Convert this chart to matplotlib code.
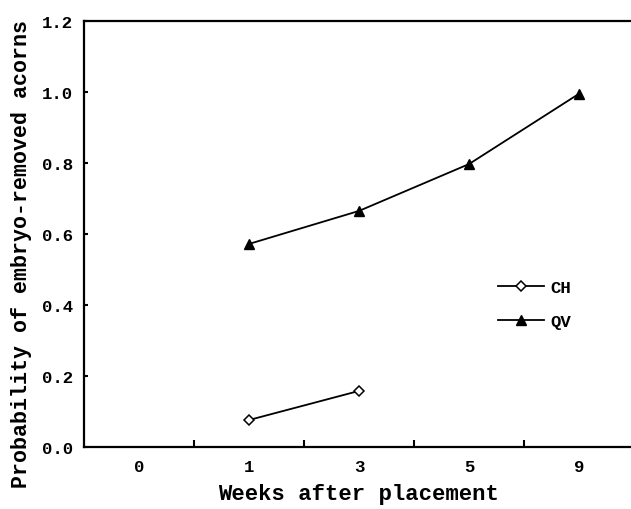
import matplotlib
matplotlib.use("Agg")
import matplotlib.pyplot as plt
import numpy as np

categories = ["0", "1", "3", "5", "9"]
ch_weeks = ["1", "3"]
ch_values = [0.076, 0.158]
qv_weeks = ["1", "3", "5", "9"]
qv_values = [0.572, 0.665, 0.797, 0.995]
yticks = [0.0, 0.2, 0.4, 0.6, 0.8, 1.0, 1.2]

font = "Liberation Mono"
plt.rcParams['font.family'] = [font, 'DejaVu Sans Mono']
plt.rcParams['font.weight'] = 'bold'

fig = plt.figure(figsize=(6.31, 5.10), dpi=100)
ax = fig.add_axes([84/631, 1-448/510, 550/631, (448-22)/510])

pos = {c: i for i, c in enumerate(categories)}
ax.plot([pos[w] for w in ch_weeks], ch_values, color='black', lw=1.3,
        marker='D', markersize=5, markerfacecolor='white', markeredgecolor='black',
        markeredgewidth=1.1, label='CH')
ax.plot([pos[w] for w in qv_weeks], qv_values, color='black', lw=1.3,
        marker='^', markersize=7, markerfacecolor='black', markeredgecolor='black',
        label='QV')

ax.set_xlim(-0.5, len(categories) - 0.5)
ax.set_ylim(0, 1.2)
ax.set_xticks(np.arange(len(categories)))
ax.set_xticklabels(categories)
ax.set_xticks(np.arange(len(categories)) + 0.5, minor=True)
ax.tick_params(axis='x', which='major', length=0, pad=9, labelsize=12.5)
ax.tick_params(axis='x', which='minor', direction='in', length=5, width=1.5)
ax.set_yticks(yticks)
ax.set_yticklabels([f"{v:.1f}" for v in yticks])
ax.tick_params(axis='y', direction='in', length=3, width=1.5, labelsize=12.5, pad=8)

for s in ['left', 'bottom', 'top']:
    ax.spines[s].set_linewidth(1.6)
ax.spines['right'].set_visible(False)

ax.set_xlabel("Weeks after placement", fontsize=16, fontweight='bold', labelpad=6)
ax.set_ylabel("Probability of embryo-removed acorns", fontsize=15.6, fontweight='bold')
ax.yaxis.set_label_coords(-0.094, 0.455)

leg = ax.legend(loc='upper left', bbox_to_anchor=(0.725, 0.43), frameon=False,
                fontsize=12.5, handlelength=2.6, labelspacing=1.1, handletextpad=0.4)

fig.savefig("out.png", dpi=100)
